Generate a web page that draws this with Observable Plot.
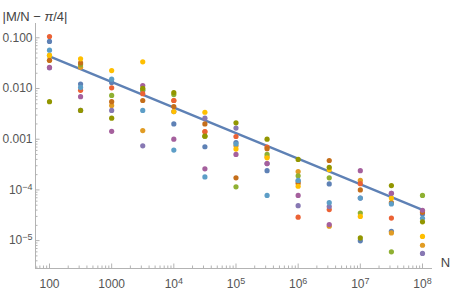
<!DOCTYPE html>
<html><head><meta charset="utf-8">
<script src="https://cdn.jsdelivr.net/npm/d3@7"></script>
<script src="https://cdn.jsdelivr.net/npm/@observablehq/plot@0.6"></script>
<style>body{margin:0;background:#fff} svg{display:block}</style>
</head><body><div id="chart"></div>
<script>
// N values (half decades)
const N = [100, 316.2, 1000, 3162, 1e4, 31623, 1e5, 316228, 1e6, 3162278, 1e7, 31622777, 1e8];
const seriesNames = ["run1","run2","run3","run4","run5","run6","run7","run8","run9","run10"];
const colors = ["#5E81B5","#E19C24","#8FB032","#EB6235","#8778B3","#C56E1A","#5D9EC7","#FFBF00","#A5609D","#929600"];
const run1  = [0.085, 0.0122, 0.0131, 0.0091, 0.0020, 0.00071, 0.00086, 0.00024, 0.00015, 0.000131, 0.0000099, 0.0000153, 0.0000335];
const run2  = [0.036, 0.0263, 0.0046, 0.00148, 0.0058, 0.0014, 0.00074, 0.00045, 0.00023, 0.0000193, 0.000154, 0.0000142, 0.0000081];
const run3  = [0.045, 0.0294, 0.0073, 0.0095, 0.0076, 0.00115, 0.000115, 0.0005, 0.00019, 0.000173, 0.000035, 0.000006, 0.000078];
const run4  = [0.106, 0.0092, 0.0103, 0.0079, 0.0058, 0.00142, 0.00113, 0.0007, 0.000029, 0.000041, 0.000133, 0.0000278, 0.0000366];
const run5  = [0.0256, 0.0037, 0.0037, 0.00074, 0.0035, 0.0026, 0.00166, 0.00033, 0.000049, 0.000047, 0.000069, 0.000086, 0.0000056];
const run6  = [0.036, 0.032, 0.0055, 0.0058, 0.0044, 0.0020, 0.000173, 0.00065, 0.000136, 0.00038, 0.0001, 0.000056, 0.0000366];
const run7  = [0.057, 0.0105, 0.0153, 0.0037, 0.00061, 0.00018, 0.0008, 0.000078, 0.000154, 0.000056, 0.000069, 0.000053, 0.0000276];
const run8  = [0.045, 0.0385, 0.0226, 0.0336, 0.0035, 0.0034, 0.00064, 0.00043, 0.000118, 0.00025, 0.00003, 0.000069, 0.0000121];
const run9  = [0.026, 0.0069, 0.00143, 0.0114, 0.0010, 0.00026, 0.0005, 0.00033, 0.000078, 0.0000208, 0.00024, 0.000086, 0.0000397];
const run10 = [0.0055, 0.0037, 0.0026, 0.0101, 0.0083, 0.00115, 0.0021, 0.001, 0.0004, 0.00028, 0.0000113, 0.000122, 0.0000235];
const allRuns = [run1, run2, run3, run4, run5, run6, run7, run8, run9, run10];

// fitted line endpoints
const fitN = [100, 1e8];
const fitErr = [0.043, 0.0000405];

const xTicks = [100, 1000, 1e4, 1e5, 1e6, 1e7, 1e8];
const xTickLabels = ["100", "1000", "10^4", "10^5", "10^6", "10^7", "10^8"];
const yTicks = [0.1, 0.01, 0.001, 1e-4, 1e-5];
const yTickLabels = ["0.100", "0.010", "0.001", "10^-4", "10^-5"];
const yLabel = "|M/N − π/4|";
const xLabel = "N";

const xDomain = [59.55, 1.449e8];
const yDomain = [2.82e-6, 0.1914];

const points = [];
allRuns.forEach((vals, i) => vals.forEach((v, j) => points.push({N: N[j], err: v, run: seriesNames[i]})));
const fit = fitN.map((n, i) => ({N: n, err: fitErr[i]}));

const minorX = [], minorY = [];
for (let e = 1; e <= 8; e++) for (let m = 2; m <= 9; m++) {
  const v = m * 10 ** e; if (v >= xDomain[0] && v <= xDomain[1]) minorX.push(v);
}
for (let e = -6; e <= -1; e++) for (let m = 2; m <= 9; m++) {
  const v = m * 10 ** e; if (v >= yDomain[0] && v <= yDomain[1]) minorY.push(v);
}

const axisColor = "#b3b3b3";
const chart = Plot.plot({
  width: 451, height: 294,
  marginLeft: 35, marginRight: 19, marginTop: 23, marginBottom: 26,
  style: {fontFamily: "'Liberation Sans', Arial, sans-serif", fontSize: "12px", background: "#fff", color: "#555"},
  x: {type: "log", domain: xDomain},
  y: {type: "log", domain: yDomain},
  color: {domain: seriesNames, range: colors},
  marks: [
    Plot.ruleX([xDomain[0]], {stroke: axisColor}),
    Plot.ruleY([yDomain[0]], {stroke: axisColor}),
    Plot.axisX(minorX, {tickSize: -2.5, stroke: axisColor, tickFormat: () => "", label: null}),
    Plot.axisY(minorY, {tickSize: -2.5, stroke: axisColor, tickFormat: () => "", label: null}),
    Plot.axisX(xTicks, {tickSize: -4.5, stroke: axisColor, tickFormat: () => "", label: null}),
    Plot.axisY(yTicks, {tickSize: -4.5, stroke: axisColor, tickFormat: () => "", label: null}),
    Plot.axisX(xTicks, {tickSize: 0, tickPadding: 11, fill: "#555", tickFormat: d => xTickLabels[xTicks.indexOf(d)], label: null}),
    Plot.axisY(yTicks, {tickSize: 0, tickPadding: 3, fill: "#555", tickFormat: d => yTickLabels[yTicks.indexOf(d)], label: null}),
    Plot.line(fit, {x: "N", y: "err", stroke: "#5E81B5", strokeWidth: 2.3}),
    Plot.dot(points, {x: "N", y: "err", fill: "run", r: 2.6}),
    Plot.text([yLabel], {frameAnchor: "top-left", dx: -33, dy: -12, textAnchor: "start", fontSize: 13, fill: "#444", text: d => d}),
    Plot.text([xLabel], {frameAnchor: "bottom-right", dx: 13, dy: -2, textAnchor: "middle", fontSize: 13, fill: "#444", text: d => d})
  ]
});
document.getElementById("chart").appendChild(chart);

// superscripts for powers of ten, italic pi in the label
d3.select(chart).selectAll("text").each(function() {
  const t = d3.select(this);
  const s = t.text();
  const m = s.match(/^10\^(.+)$/);
  if (m) {
    t.text("");
    t.append("tspan").text("10");
    t.append("tspan").attr("dy", "-0.45em").attr("font-size", "0.75em").text(m[1].replace("-", "−"));
  } else if (s === yLabel) {
    const parts = s.split("π");
    t.text("");
    t.append("tspan").text(parts[0]);
    t.append("tspan").attr("font-style", "italic").text("π");
    t.append("tspan").text(parts[1]);
  }
});
</script>
</body></html>
